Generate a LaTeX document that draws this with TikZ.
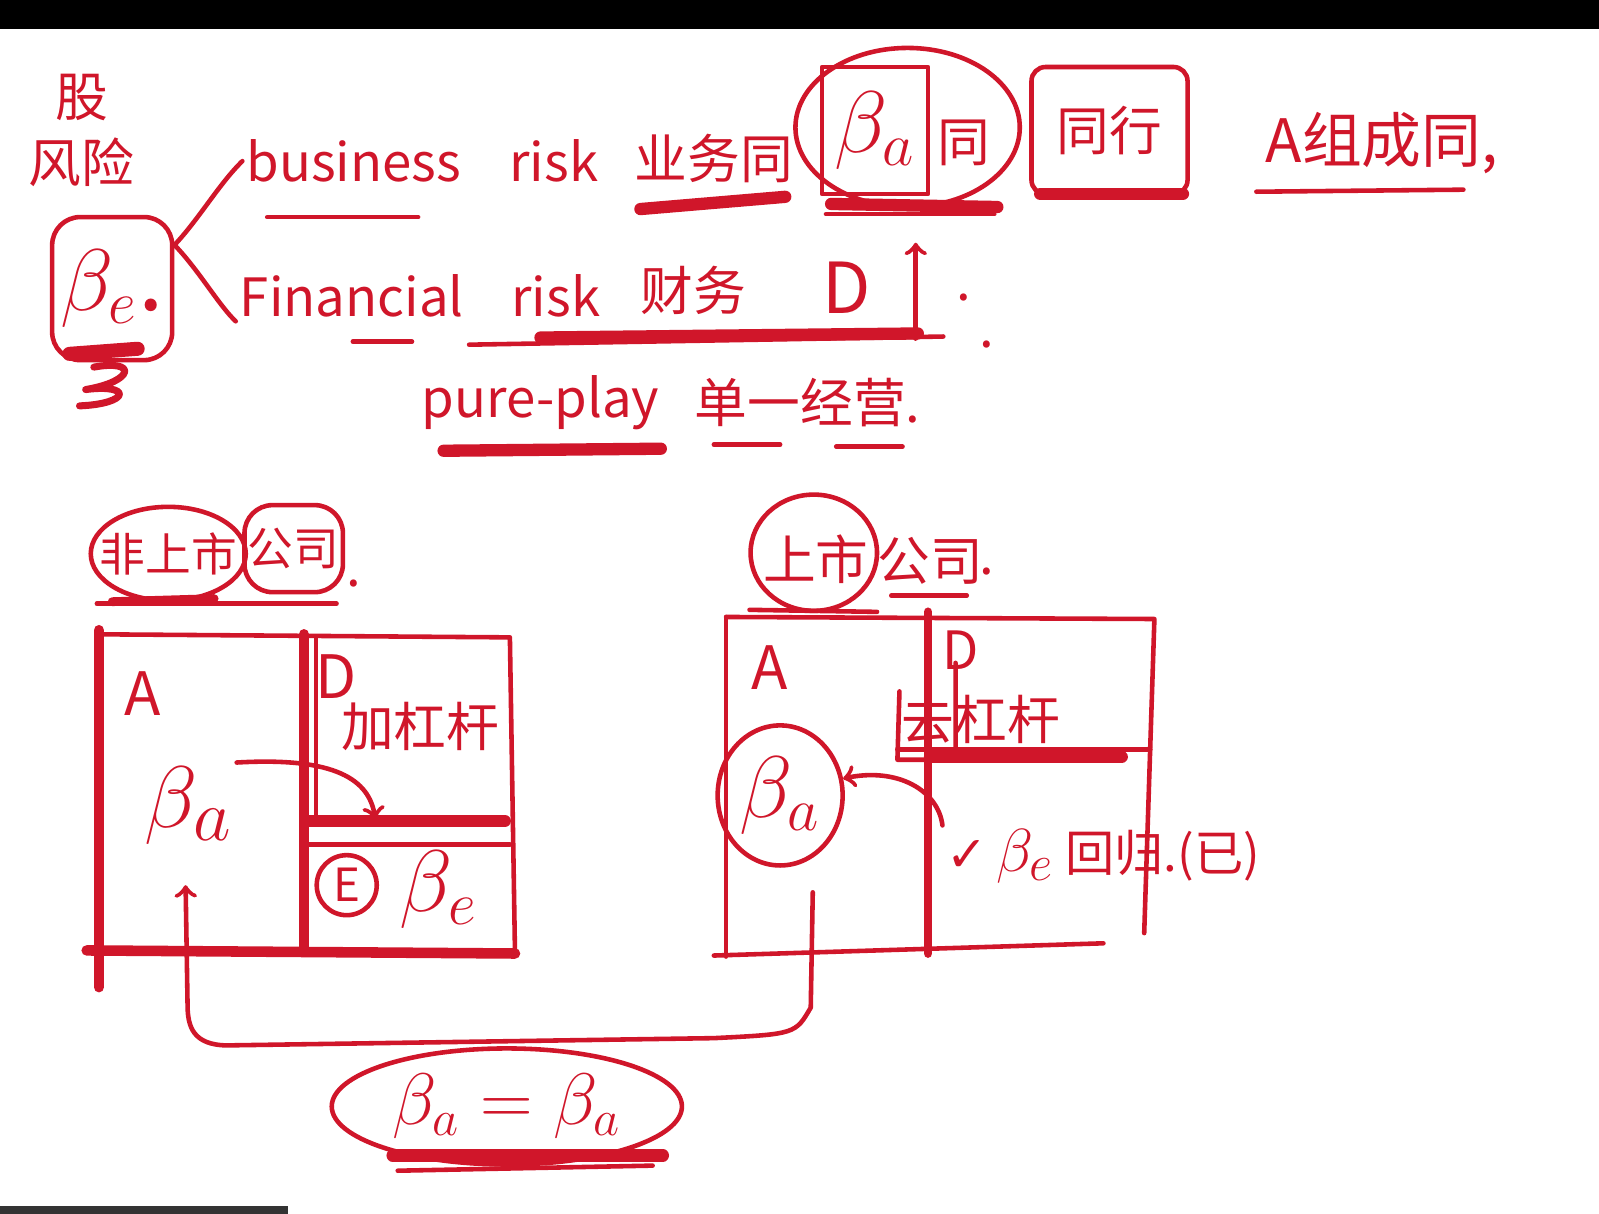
\documentclass[tikz,border=0pt]{standalone}
\usepackage{fontspec}
\setmainfont{Noto Sans CJK SC}
\newfontfamily\tickfont{DejaVu Sans}
\usetikzlibrary{shapes.geometric}
\definecolor{pen}{RGB}{208,22,42}

\begin{document}
\begin{tikzpicture}[x=0.0102cm,y=-0.0102cm,
  ink/.style={draw=pen,line width=1.3pt,line cap=round,line join=round},
  heavy/.style={draw=pen,line width=3.5pt,line cap=round},
  txt/.style={text=pen,inner sep=1pt,font=\fontsize{15}{19}\selectfont},
  big/.style={text=pen,inner sep=1pt,font=\fontsize{26}{30}\selectfont}]
\useasboundingbox (0,0) rectangle (1568,1190);
\fill[white] (0,0) rectangle (1568,1190);
\fill[black] (0,0) rectangle (1568,28);
\fill[black!80] (0,1183) rectangle (282,1190);

% top: risk split
\node[txt,align=center] (gu) at (80,128) {股\\风险};
\node[big,ink,rounded corners=8pt,minimum width=1.2cm,minimum height=1.43cm] (be) at (110,283) {$\beta_e$.};
\draw[heavy,line width=4pt] (68,347) -- (135,342);
\draw[ink,line width=2pt] (92,360) .. controls (135,352) and (132,374) .. (84,382) .. controls (130,376) and (128,396) .. (78,398);

\node[txt] (bus) at (347,158) {business};
\node[txt] (brisk) at (543,158) {risk};
\node[txt] (yw) at (700,155) {业务同};
\node[big,ink,font=\fontsize{24}{28}\selectfont,minimum width=1.06cm,minimum height=1.27cm] (tba) at (858,128) {$\beta_a$};
\node[txt] (ttong) at (945,140) {同};
\draw[ink] (890,125) ellipse [x radius=110, y radius=78];
\node[txt,ink,rounded corners=4pt,minimum width=1.56cm,minimum height=1.27cm] (hy) at (1088,128) {同行};
\node[txt,font=\fontsize{17}{20}\selectfont] (acomp) at (1355,140) {A组成同,};

\node[txt] (fin) at (345,290) {Financial};
\node[txt] (frisk) at (545,290) {risk};
\node[txt] (cw) at (680,285) {财务};
\node[txt,font=\fontsize{20}{24}\selectfont] (dd) at (830,282) {D};
\coordinate (dfoot) at (898,332);
\coordinate (dtop) at (898,238);
\node[txt] (dot1) at (945,292) {.};
\node[txt] (dot2) at (968,338) {.};

\node[txt] (pp) at (530,395) {pure-play};
\node[txt] (dy) at (792,395) {单一经营.};

\draw[ink] (be.35) .. controls (195,215) and (215,180) .. (bus.west);
\draw[ink] (be.35) .. controls (195,265) and (215,300) .. (fin.south west);
\draw[ink,->] (dfoot) -- (dtop);

% underlines of the top part
\draw[ink] (262,213) -- (410,213);
\draw[heavy] (628,205) -- (770,193);
\draw[heavy] (815,200) -- (978,203);
\draw[ink] (810,210) -- (975,210);
\draw[heavy] (1020,190) -- (1160,190);
\draw[ink] (1232,188) -- (1435,186);
\draw[ink] (346,335) -- (404,335);
\draw[ink] (460,338) -- (925,330);
\draw[heavy] (530,331) -- (900,327);
\draw[heavy] (435,442) -- (648,440);
\draw[ink] (700,436) -- (765,436);
\draw[ink] (820,438) -- (885,438);

% non-listed company
\node[txt,font=\fontsize{13}{16}\selectfont] (nl) at (165,543) {非上市};
\draw[ink] (nl.center) ellipse [x radius=76, y radius=46];
\node[txt,font=\fontsize{13}{16}\selectfont,ink,rounded corners=8pt,minimum width=0.92cm,minimum height=0.87cm] (co1) at (288,538) {公司};
\node[txt] (dot3) at (347,572) {.};
\draw[ink] (95,592) -- (330,592);
\draw[heavy,line width=2.5pt] (110,590) -- (210,587);

\draw[heavy,line width=3pt] (97,618) -- (97,968);
\draw[ink] (97,622) -- (500,625) -- (505,935);
\draw[heavy,line width=3pt] (85,932) -- (505,935);
\draw[heavy,line width=3pt] (298,622) -- (298,932);
\draw[ink] (310,625) -- (310,805);
\draw[heavy] (300,805) -- (495,805);
\draw[ink] (300,828) -- (500,828);

\node[txt,font=\fontsize{17}{20}\selectfont] (lA) at (140,680) {A};
\node[big,font=\fontsize{30}{34}\selectfont] (lba) at (185,790) {$\beta_a$};
\node[txt,font=\fontsize{17}{20}\selectfont] (lD) at (330,663) {D};
\node[txt] (llev) at (412,712) {加杠杆};
\node[txt,ink,circle,minimum size=0.6cm,font=\fontsize{13}{16}\selectfont] (lE) at (340,868) {E};
\node[big] (lbe) at (430,872) {$\beta_e$};
\coordinate (ltip) at (368,803);
\draw[ink,->] (lba.north east) .. controls (330,742) and (362,765) .. (ltip);

% listed company
\node[txt] (ls) at (800,548) {上市};
\draw[ink] (798,542) ellipse [x radius=62, y radius=57];
\node[txt] (co2) at (912,550) {公司};
\node[txt] (dot4) at (968,560) {.};
\draw[ink] (874,584) -- (948,584);
\draw[ink] (735,598) -- (860,600);

\draw[ink] (712,605) -- (1132,607) -- (1122,915);
\draw[ink] (712,605) -- (712,938);
\draw[ink] (700,937) -- (1082,925);
\draw[heavy,line width=2.5pt] (910,600) -- (910,935);
\draw[ink] (880,735) -- (1128,735);
\draw[heavy] (912,742) -- (1100,742);

\node[txt,font=\fontsize{17}{20}\selectfont] (rA) at (755,655) {A};
\node[big,ink,ellipse,minimum width=1.1cm,minimum height=1.4cm] (rba) at (765,780) {$\beta_a$};
\node[txt] (rD) at (942,638) {D};
\node[txt] (rlev) at (962,705) {去杠杆};
\draw[ink] (882,678) -- (880,745) -- (937,745) -- (937,650);
\node[txt,font=\fontsize{14}{18}\selectfont] (rbe) at (1082,840) {{\tickfont ✓}\,{\fontsize{19}{22}\selectfont$\beta_e$} 回归.(已)};
\draw[ink,->] (rbe.north west) .. controls (920,775) and (880,752) .. (rba.15);

% bridge between both
\coordinate (rfoot) at (797,875);
\coordinate (lfoot) at (182,868);
\draw[ink,->] (rfoot) -- (795,988) .. controls (780,1014) .. (700,1018) -- (230,1025) .. controls (192,1027) and (185,1010) .. (184,990) -- (lfoot);
\node[big,ink,ellipse,minimum width=3.5cm,minimum height=1.16cm,inner sep=0pt,font=\fontsize{22}{26}\selectfont] (eq) at (497,1085) {$\beta_a=\beta_a$};
\draw[heavy] (385,1133) -- (650,1133);
\draw[ink] (390,1148) -- (640,1143);
\end{tikzpicture}
\end{document}
